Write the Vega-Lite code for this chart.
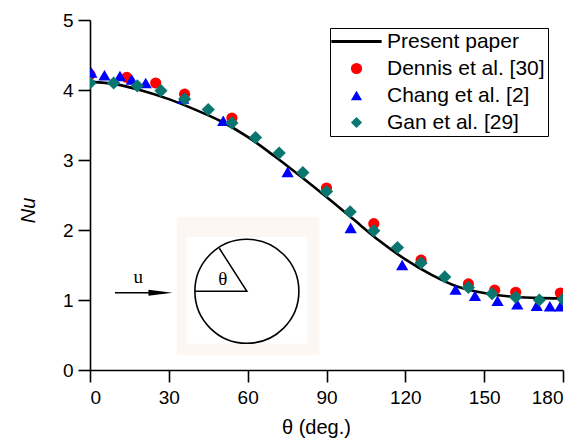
{
  "$schema": "https://vega.github.io/schema/vega-lite/v6.json",
  "autosize": "none",
  "width": 473,
  "height": 350,
  "padding": {"left": 90, "top": 20, "right": 18, "bottom": 71},
  "background": "white",
  "config": {
    "view": {"stroke": null},
    "font": "Liberation Sans",
    "axis": {
      "grid": false,
      "domainColor": "black",
      "domainWidth": 1.6,
      "tickColor": "black",
      "tickWidth": 1.6,
      "tickSize": 12,
      "labelFont": "Liberation Sans",
      "labelFontSize": 19,
      "labelColor": "black",
      "titleFont": "Liberation Sans",
      "titleFontSize": 20,
      "titleFontWeight": "normal",
      "titleColor": "black"
    },
    "legend": {
      "labelFont": "Liberation Sans",
      "labelFontSize": 21,
      "labelColor": "black"
    }
  },
  "datasets": {
    "curve": [
      {"series": "Present paper", "theta": 0, "nu": 4.12},
      {"series": "Present paper", "theta": 10, "nu": 4.08},
      {"series": "Present paper", "theta": 20, "nu": 3.99},
      {"series": "Present paper", "theta": 30, "nu": 3.87},
      {"series": "Present paper", "theta": 40, "nu": 3.72},
      {"series": "Present paper", "theta": 50, "nu": 3.55},
      {"series": "Present paper", "theta": 60, "nu": 3.33},
      {"series": "Present paper", "theta": 70, "nu": 3.06},
      {"series": "Present paper", "theta": 80, "nu": 2.77},
      {"series": "Present paper", "theta": 90, "nu": 2.47},
      {"series": "Present paper", "theta": 100, "nu": 2.16},
      {"series": "Present paper", "theta": 110, "nu": 1.85},
      {"series": "Present paper", "theta": 120, "nu": 1.58},
      {"series": "Present paper", "theta": 130, "nu": 1.36},
      {"series": "Present paper", "theta": 140, "nu": 1.19},
      {"series": "Present paper", "theta": 150, "nu": 1.10},
      {"series": "Present paper", "theta": 160, "nu": 1.05},
      {"series": "Present paper", "theta": 170, "nu": 1.03},
      {"series": "Present paper", "theta": 180, "nu": 1.02}
    ],
    "points": [
      {"series": "Dennis et al. [30]", "theta": 0, "nu": 4.22},
      {"series": "Dennis et al. [30]", "theta": 14, "nu": 4.18},
      {"series": "Dennis et al. [30]", "theta": 25, "nu": 4.10},
      {"series": "Dennis et al. [30]", "theta": 36, "nu": 3.94},
      {"series": "Dennis et al. [30]", "theta": 54, "nu": 3.60},
      {"series": "Dennis et al. [30]", "theta": 90, "nu": 2.60},
      {"series": "Dennis et al. [30]", "theta": 108, "nu": 2.09},
      {"series": "Dennis et al. [30]", "theta": 126, "nu": 1.57},
      {"series": "Dennis et al. [30]", "theta": 144, "nu": 1.23},
      {"series": "Dennis et al. [30]", "theta": 154, "nu": 1.14},
      {"series": "Dennis et al. [30]", "theta": 162, "nu": 1.11},
      {"series": "Dennis et al. [30]", "theta": 179, "nu": 1.10},
      {"series": "Chang et al. [2]", "theta": 0.5, "nu": 4.25},
      {"series": "Chang et al. [2]", "theta": 5.5, "nu": 4.21},
      {"series": "Chang et al. [2]", "theta": 11.4, "nu": 4.20},
      {"series": "Chang et al. [2]", "theta": 15.9, "nu": 4.15},
      {"series": "Chang et al. [2]", "theta": 21.2, "nu": 4.10},
      {"series": "Chang et al. [2]", "theta": 35.5, "nu": 3.88},
      {"series": "Chang et al. [2]", "theta": 50.7, "nu": 3.56},
      {"series": "Chang et al. [2]", "theta": 75.2, "nu": 2.83},
      {"series": "Chang et al. [2]", "theta": 99.2, "nu": 2.03},
      {"series": "Chang et al. [2]", "theta": 118.8, "nu": 1.50},
      {"series": "Chang et al. [2]", "theta": 139.1, "nu": 1.15},
      {"series": "Chang et al. [2]", "theta": 146.5, "nu": 1.06},
      {"series": "Chang et al. [2]", "theta": 155.1, "nu": 0.99},
      {"series": "Chang et al. [2]", "theta": 162.6, "nu": 0.94},
      {"series": "Chang et al. [2]", "theta": 170, "nu": 0.92},
      {"series": "Chang et al. [2]", "theta": 175, "nu": 0.91},
      {"series": "Chang et al. [2]", "theta": 179, "nu": 0.91},
      {"series": "Gan et al. [29]", "theta": 0, "nu": 4.10},
      {"series": "Gan et al. [29]", "theta": 9, "nu": 4.10},
      {"series": "Gan et al. [29]", "theta": 18, "nu": 4.06},
      {"series": "Gan et al. [29]", "theta": 27, "nu": 3.99},
      {"series": "Gan et al. [29]", "theta": 36, "nu": 3.87},
      {"series": "Gan et al. [29]", "theta": 45, "nu": 3.72},
      {"series": "Gan et al. [29]", "theta": 54, "nu": 3.53},
      {"series": "Gan et al. [29]", "theta": 63, "nu": 3.32},
      {"series": "Gan et al. [29]", "theta": 72, "nu": 3.10},
      {"series": "Gan et al. [29]", "theta": 81, "nu": 2.82},
      {"series": "Gan et al. [29]", "theta": 90, "nu": 2.55},
      {"series": "Gan et al. [29]", "theta": 99, "nu": 2.26},
      {"series": "Gan et al. [29]", "theta": 108, "nu": 1.99},
      {"series": "Gan et al. [29]", "theta": 117, "nu": 1.75},
      {"series": "Gan et al. [29]", "theta": 126, "nu": 1.53},
      {"series": "Gan et al. [29]", "theta": 135, "nu": 1.33},
      {"series": "Gan et al. [29]", "theta": 144, "nu": 1.18},
      {"series": "Gan et al. [29]", "theta": 153, "nu": 1.09},
      {"series": "Gan et al. [29]", "theta": 162, "nu": 1.04},
      {"series": "Gan et al. [29]", "theta": 171, "nu": 1.00},
      {"series": "Gan et al. [29]", "theta": 180, "nu": 1.01}
    ],
    "insetBox": [
      {"part": "outer", "x1": 33, "x2": 87.3, "y1": 0.21, "y2": 2.19},
      {"part": "inner", "x1": 36.8, "x2": 82.5, "y1": 0.38, "y2": 1.9}
    ],
    "circle": [{"cx": 59.7, "cy": 1.124}],
    "radii": [
      {"k": 1, "px": 39.95, "py": 1.124},
      {"k": 2, "px": 59.7, "py": 1.124},
      {"k": 3, "px": 49.2, "py": 1.739}
    ],
    "arrowLine": [
      {"k": 1, "px": 9.5, "py": 1.104},
      {"k": 2, "px": 28.5, "py": 1.104}
    ],
    "arrowHead": [{"px": 26.8, "py": 1.104}],
    "labels": [
      {"txt": "θ", "px": 50.5, "py": 1.30},
      {"txt": "u", "px": 18.4, "py": 1.33}
    ]
  },
  "layer": [
    {
      "data": {"name": "insetBox"},
      "mark": {"type": "rect"},
      "encoding": {
        "x": {"field": "x1", "type": "quantitative", "scale": {"domain": [0, 180], "nice": false}},
        "x2": {"field": "x2"},
        "y": {"field": "y1", "type": "quantitative", "scale": {"domain": [0, 5], "nice": false}},
        "y2": {"field": "y2"},
        "fill": {"field": "part", "type": "nominal", "scale": {"domain": ["outer", "inner"], "range": ["#fdf7f3", "#ffffff"]}, "legend": null}
      }
    },
    {
      "data": {"name": "circle"},
      "mark": {"type": "point", "shape": "circle", "filled": false, "stroke": "black", "strokeWidth": 1.6, "size": 10816, "opacity": 1},
      "encoding": {
        "x": {"field": "cx", "type": "quantitative"},
        "y": {"field": "cy", "type": "quantitative"}
      }
    },
    {
      "data": {"name": "radii"},
      "mark": {"type": "line", "color": "black", "strokeWidth": 1.5},
      "encoding": {
        "x": {"field": "px", "type": "quantitative"},
        "y": {"field": "py", "type": "quantitative"},
        "order": {"field": "k", "type": "quantitative"}
      }
    },
    {
      "data": {"name": "arrowLine"},
      "mark": {"type": "line", "color": "black", "strokeWidth": 1.5},
      "encoding": {
        "x": {"field": "px", "type": "quantitative"},
        "y": {"field": "py", "type": "quantitative"},
        "order": {"field": "k", "type": "quantitative"}
      }
    },
    {
      "data": {"name": "arrowHead"},
      "mark": {"type": "point", "shape": "M-1,-0.25L1,0L-1,0.25Z", "filled": true, "color": "black", "size": 576, "opacity": 1},
      "encoding": {
        "x": {"field": "px", "type": "quantitative"},
        "y": {"field": "py", "type": "quantitative"}
      }
    },
    {
      "data": {"name": "labels"},
      "mark": {"type": "text", "font": "Liberation Serif", "fontSize": 19, "color": "black", "align": "center", "baseline": "middle"},
      "encoding": {
        "x": {"field": "px", "type": "quantitative"},
        "y": {"field": "py", "type": "quantitative"},
        "text": {"field": "txt"}
      }
    },
    {
      "data": {"name": "curve"},
      "mark": {"type": "line", "strokeWidth": 2.6, "interpolate": "monotone", "clip": true},
      "encoding": {
        "x": {"field": "theta", "type": "quantitative"},
        "y": {"field": "nu", "type": "quantitative"},
        "color": {"field": "series", "type": "nominal"}
      }
    },
    {
      "data": {"name": "points"},
      "mark": {"type": "point", "filled": true, "opacity": 1, "clip": true},
      "encoding": {
        "x": {
          "field": "theta", "type": "quantitative",
          "scale": {"domain": [0, 180], "nice": false},
          "axis": {"values": [0, 30, 60, 90, 120, 150, 180], "title": "θ (deg.)", "labelPadding": 6, "titleX": 226, "titleY": 57, "titleBaseline": "middle"}
        },
        "y": {
          "field": "nu", "type": "quantitative",
          "scale": {"domain": [0, 5], "nice": false},
          "axis": {"values": [0, 1, 2, 3, 4, 5], "format": "d", "title": "Nu", "titleFontStyle": "italic", "labelPadding": 5, "titleX": -62, "titleY": 190, "titleAngle": -90, "titleAlign": "center", "titleBaseline": "middle"}
        },
        "size": {
          "field": "series", "type": "nominal",
          "scale": {
            "domain": ["Dennis et al. [30]", "Chang et al. [2]", "Gan et al. [29]"],
            "range": [125, 175, 165]
          },
          "legend": null
        },
        "color": {
          "field": "series", "type": "nominal",
          "scale": {
            "domain": ["Present paper", "Dennis et al. [30]", "Chang et al. [2]", "Gan et al. [29]"],
            "range": ["#000000", "#ff0000", "#0000ff", "#0a7670"]
          },
          "legend": {
            "title": null,
            "orient": "none",
            "legendX": 240,
            "legendY": 8,
            "padding": 3,
            "strokeColor": "black",
            "fillColor": "white",
            "symbolSize": 125,
            "symbolOffset": 13,
            "labelOffset": 20,
            "rowPadding": 5,
            "symbolStrokeWidth": 0,
            "encode": {"legend": {"update": {"strokeWidth": {"value": 1.2}}}}
          }
        },
        "shape": {
          "field": "series", "type": "nominal",
          "scale": {
            "domain": ["Present paper", "Dennis et al. [30]", "Chang et al. [2]", "Gan et al. [29]"],
            "range": ["M-4.5,-0.27H4.5V0.27H-4.5Z", "circle", "triangle-up", "diamond"]
          },
          "legend": {
            "title": null,
            "orient": "none",
            "legendX": 240,
            "legendY": 8,
            "padding": 3,
            "strokeColor": "black",
            "fillColor": "white",
            "symbolSize": 125,
            "symbolOffset": 13,
            "labelOffset": 20,
            "rowPadding": 5,
            "symbolStrokeWidth": 0,
            "encode": {"legend": {"update": {"strokeWidth": {"value": 1.2}}}}
          }
        }
      }
    }
  ]
}
